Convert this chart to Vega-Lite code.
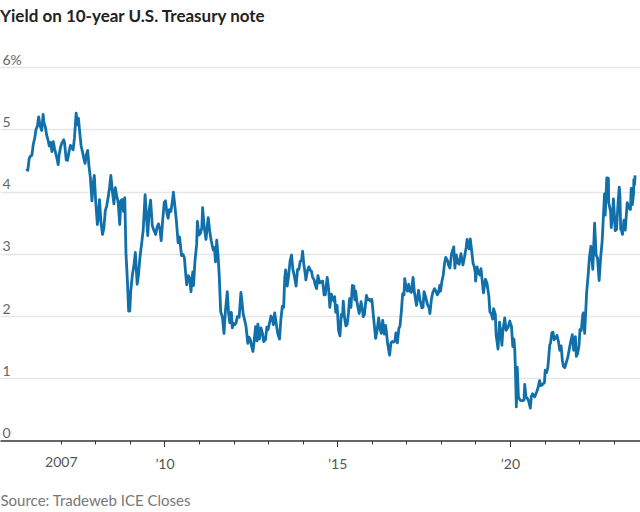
{
  "$schema": "https://vega.github.io/schema/vega-lite/v6.json",
  "width": 640,
  "height": 373.5,
  "autosize": {"type": "none"},
  "padding": {"left": 0, "top": 67, "right": 0, "bottom": 71.5},
  "background": "white",
  "title": {"text": "Yield on 10-year U.S. Treasury note", "anchor": "start", "frame": "group", "font": "Lato", "fontSize": 17, "fontWeight": "bold", "color": "#222222", "offset": 27},
  "config": {"view": {"stroke": null}},
  "data": {"values": [
    {"d":"2006-01-03","v":4.37},{"d":"2006-01-17","v":4.34},{"d":"2006-02-01","v":4.53},{"d":"2006-02-15","v":4.57},{"d":"2006-03-01","v":4.58},{"d":"2006-03-15","v":4.75},{"d":"2006-03-31","v":4.86},{"d":"2006-04-14","v":5.00},{"d":"2006-04-28","v":5.05},{"d":"2006-05-12","v":5.20},{"d":"2006-05-26","v":5.06},{"d":"2006-06-13","v":4.98},{"d":"2006-06-28","v":5.24},{"d":"2006-07-07","v":5.10},{"d":"2006-07-21","v":5.04},{"d":"2006-08-04","v":4.91},{"d":"2006-08-18","v":4.83},{"d":"2006-09-01","v":4.73},{"d":"2006-09-15","v":4.79},{"d":"2006-09-29","v":4.64},{"d":"2006-10-13","v":4.80},{"d":"2006-10-27","v":4.69},{"d":"2006-11-10","v":4.60},{"d":"2006-11-24","v":4.51},{"d":"2006-12-04","v":4.43},{"d":"2006-12-15","v":4.60},{"d":"2006-12-29","v":4.71},
    {"d":"2007-01-12","v":4.78},{"d":"2007-01-31","v":4.83},{"d":"2007-02-09","v":4.79},{"d":"2007-02-27","v":4.51},{"d":"2007-03-13","v":4.50},{"d":"2007-03-30","v":4.65},{"d":"2007-04-13","v":4.74},{"d":"2007-04-27","v":4.70},{"d":"2007-05-11","v":4.67},{"d":"2007-05-25","v":4.86},{"d":"2007-06-12","v":5.26},{"d":"2007-06-26","v":5.07},{"d":"2007-07-06","v":5.18},{"d":"2007-07-20","v":4.95},{"d":"2007-08-03","v":4.74},{"d":"2007-08-16","v":4.65},{"d":"2007-08-31","v":4.54},{"d":"2007-09-14","v":4.45},{"d":"2007-09-28","v":4.59},{"d":"2007-10-12","v":4.66},{"d":"2007-10-26","v":4.40},{"d":"2007-11-09","v":4.23},{"d":"2007-11-26","v":3.85},{"d":"2007-12-07","v":4.10},{"d":"2007-12-21","v":4.26},
    {"d":"2008-01-04","v":3.86},{"d":"2008-01-22","v":3.47},{"d":"2008-02-01","v":3.59},{"d":"2008-02-14","v":3.87},{"d":"2008-02-29","v":3.51},{"d":"2008-03-17","v":3.31},{"d":"2008-03-31","v":3.41},{"d":"2008-04-15","v":3.69},{"d":"2008-04-30","v":3.77},{"d":"2008-05-14","v":3.89},{"d":"2008-05-30","v":4.06},{"d":"2008-06-13","v":4.26},{"d":"2008-06-30","v":3.99},{"d":"2008-07-15","v":3.80},{"d":"2008-07-30","v":4.06},{"d":"2008-08-14","v":3.93},{"d":"2008-08-29","v":3.83},{"d":"2008-09-15","v":3.47},{"d":"2008-09-26","v":3.85},{"d":"2008-10-10","v":3.87},{"d":"2008-10-24","v":3.68},{"d":"2008-11-07","v":3.90},{"d":"2008-11-20","v":3.00},{"d":"2008-12-05","v":2.56},{"d":"2008-12-18","v":2.08},{"d":"2008-12-30","v":2.08},
    {"d":"2009-01-09","v":2.40},{"d":"2009-01-28","v":2.68},{"d":"2009-02-10","v":2.79},{"d":"2009-02-27","v":3.02},{"d":"2009-03-18","v":2.51},{"d":"2009-04-01","v":2.66},{"d":"2009-04-17","v":2.95},{"d":"2009-05-05","v":3.17},{"d":"2009-05-21","v":3.38},{"d":"2009-06-10","v":3.95},{"d":"2009-06-25","v":3.58},{"d":"2009-07-08","v":3.29},{"d":"2009-07-23","v":3.70},{"d":"2009-08-07","v":3.86},{"d":"2009-08-25","v":3.45},{"d":"2009-09-10","v":3.38},{"d":"2009-09-30","v":3.31},{"d":"2009-10-15","v":3.43},{"d":"2009-10-29","v":3.48},{"d":"2009-11-13","v":3.40},{"d":"2009-11-27","v":3.21},{"d":"2009-12-14","v":3.56},{"d":"2009-12-30","v":3.83},
    {"d":"2010-01-11","v":3.85},{"d":"2010-01-27","v":3.65},{"d":"2010-02-08","v":3.57},{"d":"2010-02-22","v":3.71},{"d":"2010-03-09","v":3.68},{"d":"2010-03-26","v":3.85},{"d":"2010-04-05","v":3.99},{"d":"2010-04-21","v":3.76},{"d":"2010-05-06","v":3.54},{"d":"2010-05-25","v":3.18},{"d":"2010-06-09","v":3.27},{"d":"2010-06-30","v":2.97},{"d":"2010-07-15","v":2.99},{"d":"2010-07-30","v":2.94},{"d":"2010-08-13","v":2.68},{"d":"2010-08-24","v":2.50},{"d":"2010-09-08","v":2.65},{"d":"2010-09-24","v":2.61},{"d":"2010-10-08","v":2.39},{"d":"2010-10-27","v":2.71},{"d":"2010-11-04","v":2.49},{"d":"2010-11-19","v":2.88},{"d":"2010-12-07","v":3.15},{"d":"2010-12-15","v":3.52},{"d":"2010-12-31","v":3.30},
    {"d":"2011-01-14","v":3.32},{"d":"2011-01-31","v":3.42},{"d":"2011-02-08","v":3.74},{"d":"2011-02-25","v":3.42},{"d":"2011-03-16","v":3.23},{"d":"2011-03-31","v":3.47},{"d":"2011-04-08","v":3.58},{"d":"2011-04-26","v":3.34},{"d":"2011-05-10","v":3.21},{"d":"2011-05-31","v":3.06},{"d":"2011-06-14","v":3.10},{"d":"2011-06-24","v":2.87},{"d":"2011-07-07","v":3.22},{"d":"2011-07-22","v":2.96},{"d":"2011-08-03","v":2.64},{"d":"2011-08-18","v":2.07},{"d":"2011-09-06","v":1.98},{"d":"2011-09-22","v":1.72},{"d":"2011-10-07","v":2.08},{"d":"2011-10-27","v":2.39},{"d":"2011-11-10","v":2.04},{"d":"2011-11-23","v":1.89},{"d":"2011-12-09","v":2.06},{"d":"2011-12-19","v":1.81},{"d":"2011-12-30","v":1.88},
    {"d":"2012-01-13","v":1.86},{"d":"2012-01-27","v":1.89},{"d":"2012-02-10","v":1.99},{"d":"2012-02-29","v":1.98},{"d":"2012-03-19","v":2.38},{"d":"2012-03-30","v":2.23},{"d":"2012-04-12","v":2.03},{"d":"2012-04-27","v":1.94},{"d":"2012-05-11","v":1.84},{"d":"2012-05-31","v":1.56},{"d":"2012-06-12","v":1.66},{"d":"2012-06-27","v":1.62},{"d":"2012-07-11","v":1.51},{"d":"2012-07-24","v":1.43},{"d":"2012-08-10","v":1.65},{"d":"2012-08-21","v":1.83},{"d":"2012-09-05","v":1.60},{"d":"2012-09-14","v":1.87},{"d":"2012-10-01","v":1.63},{"d":"2012-10-17","v":1.81},{"d":"2012-11-02","v":1.72},{"d":"2012-11-15","v":1.59},{"d":"2012-12-04","v":1.62},{"d":"2012-12-18","v":1.82},{"d":"2012-12-31","v":1.78},
    {"d":"2013-01-14","v":1.88},{"d":"2013-01-31","v":2.00},{"d":"2013-02-11","v":1.97},{"d":"2013-02-26","v":1.86},{"d":"2013-03-11","v":2.05},{"d":"2013-03-28","v":1.87},{"d":"2013-04-12","v":1.72},{"d":"2013-05-01","v":1.63},{"d":"2013-05-15","v":1.94},{"d":"2013-05-31","v":2.16},{"d":"2013-06-14","v":2.14},{"d":"2013-06-25","v":2.61},{"d":"2013-07-05","v":2.74},{"d":"2013-07-22","v":2.48},{"d":"2013-08-05","v":2.64},{"d":"2013-08-21","v":2.89},{"d":"2013-09-05","v":2.98},{"d":"2013-09-20","v":2.74},{"d":"2013-10-04","v":2.65},{"d":"2013-10-23","v":2.48},{"d":"2013-11-08","v":2.75},{"d":"2013-11-22","v":2.75},{"d":"2013-12-06","v":2.88},{"d":"2013-12-20","v":2.89},{"d":"2013-12-31","v":3.04},
    {"d":"2014-01-13","v":2.83},{"d":"2014-01-31","v":2.64},{"d":"2014-02-03","v":2.58},{"d":"2014-02-21","v":2.73},{"d":"2014-03-07","v":2.79},{"d":"2014-03-24","v":2.73},{"d":"2014-04-04","v":2.72},{"d":"2014-04-15","v":2.63},{"d":"2014-05-02","v":2.58},{"d":"2014-05-15","v":2.49},{"d":"2014-05-28","v":2.44},{"d":"2014-06-11","v":2.65},{"d":"2014-06-30","v":2.53},{"d":"2014-07-15","v":2.55},{"d":"2014-07-31","v":2.56},{"d":"2014-08-15","v":2.34},{"d":"2014-08-28","v":2.34},{"d":"2014-09-05","v":2.46},{"d":"2014-09-17","v":2.62},{"d":"2014-10-02","v":2.44},{"d":"2014-10-15","v":2.14},{"d":"2014-10-31","v":2.35},{"d":"2014-11-07","v":2.31},{"d":"2014-11-26","v":2.24},{"d":"2014-12-05","v":2.31},{"d":"2014-12-16","v":2.06},{"d":"2014-12-31","v":2.17},
    {"d":"2015-01-15","v":1.77},{"d":"2015-01-30","v":1.68},{"d":"2015-02-13","v":2.02},{"d":"2015-02-27","v":2.00},{"d":"2015-03-06","v":2.24},{"d":"2015-03-19","v":1.98},{"d":"2015-04-03","v":1.84},{"d":"2015-04-17","v":1.87},{"d":"2015-04-30","v":2.05},{"d":"2015-05-12","v":2.28},{"d":"2015-05-26","v":2.14},{"d":"2015-06-10","v":2.49},{"d":"2015-06-26","v":2.48},{"d":"2015-07-06","v":2.26},{"d":"2015-07-15","v":2.40},{"d":"2015-07-31","v":2.20},{"d":"2015-08-21","v":2.04},{"d":"2015-09-10","v":2.23},{"d":"2015-09-29","v":2.05},{"d":"2015-10-02","v":1.99},{"d":"2015-10-15","v":2.02},{"d":"2015-11-06","v":2.33},{"d":"2015-11-20","v":2.26},{"d":"2015-12-04","v":2.27},{"d":"2015-12-17","v":2.24},{"d":"2015-12-31","v":2.27},
    {"d":"2016-01-04","v":2.24},{"d":"2016-01-20","v":1.98},{"d":"2016-02-11","v":1.64},{"d":"2016-02-26","v":1.76},{"d":"2016-03-14","v":1.97},{"d":"2016-03-31","v":1.78},{"d":"2016-04-11","v":1.72},{"d":"2016-04-26","v":1.93},{"d":"2016-05-13","v":1.71},{"d":"2016-05-27","v":1.85},{"d":"2016-06-16","v":1.57},{"d":"2016-06-27","v":1.46},{"d":"2016-07-08","v":1.37},{"d":"2016-07-22","v":1.57},{"d":"2016-08-05","v":1.59},{"d":"2016-08-19","v":1.58},{"d":"2016-09-02","v":1.60},{"d":"2016-09-13","v":1.73},{"d":"2016-09-28","v":1.57},{"d":"2016-10-14","v":1.80},{"d":"2016-10-26","v":1.84},{"d":"2016-11-09","v":2.07},{"d":"2016-11-23","v":2.36},{"d":"2016-12-07","v":2.34},{"d":"2016-12-15","v":2.60},{"d":"2016-12-30","v":2.45},
    {"d":"2017-01-13","v":2.40},{"d":"2017-01-26","v":2.51},{"d":"2017-02-07","v":2.40},{"d":"2017-02-23","v":2.38},{"d":"2017-03-13","v":2.62},{"d":"2017-03-27","v":2.38},{"d":"2017-04-18","v":2.17},{"d":"2017-05-10","v":2.41},{"d":"2017-05-26","v":2.25},{"d":"2017-06-14","v":2.13},{"d":"2017-06-26","v":2.14},{"d":"2017-07-07","v":2.39},{"d":"2017-07-26","v":2.29},{"d":"2017-08-11","v":2.19},{"d":"2017-08-31","v":2.12},{"d":"2017-09-07","v":2.04},{"d":"2017-09-22","v":2.26},{"d":"2017-10-06","v":2.37},{"d":"2017-10-25","v":2.44},{"d":"2017-11-10","v":2.40},{"d":"2017-11-24","v":2.34},{"d":"2017-12-08","v":2.38},{"d":"2017-12-20","v":2.49},{"d":"2017-12-29","v":2.40},
    {"d":"2018-01-11","v":2.55},{"d":"2018-01-26","v":2.66},{"d":"2018-02-09","v":2.85},{"d":"2018-02-21","v":2.94},{"d":"2018-03-09","v":2.90},{"d":"2018-03-23","v":2.82},{"d":"2018-04-06","v":2.77},{"d":"2018-04-24","v":3.00},{"d":"2018-05-17","v":3.11},{"d":"2018-05-29","v":2.77},{"d":"2018-06-13","v":2.98},{"d":"2018-06-29","v":2.85},{"d":"2018-07-13","v":2.83},{"d":"2018-08-01","v":3.00},{"d":"2018-08-22","v":2.82},{"d":"2018-09-07","v":2.94},{"d":"2018-09-25","v":3.10},{"d":"2018-10-05","v":3.23},{"d":"2018-10-12","v":3.15},{"d":"2018-10-26","v":3.08},{"d":"2018-11-08","v":3.24},{"d":"2018-11-23","v":3.04},{"d":"2018-12-07","v":2.85},{"d":"2018-12-20","v":2.79},{"d":"2018-12-31","v":2.69},
    {"d":"2019-01-03","v":2.56},{"d":"2019-01-18","v":2.79},{"d":"2019-02-01","v":2.70},{"d":"2019-02-15","v":2.66},{"d":"2019-03-01","v":2.76},{"d":"2019-03-22","v":2.44},{"d":"2019-03-27","v":2.37},{"d":"2019-04-17","v":2.59},{"d":"2019-05-03","v":2.53},{"d":"2019-05-23","v":2.32},{"d":"2019-06-03","v":2.07},{"d":"2019-06-20","v":2.03},{"d":"2019-07-03","v":1.95},{"d":"2019-07-12","v":2.12},{"d":"2019-07-31","v":2.02},{"d":"2019-08-07","v":1.71},{"d":"2019-08-28","v":1.47},{"d":"2019-09-13","v":1.90},{"d":"2019-09-30","v":1.68},{"d":"2019-10-08","v":1.53},{"d":"2019-10-18","v":1.76},{"d":"2019-11-07","v":1.97},{"d":"2019-11-22","v":1.77},{"d":"2019-12-13","v":1.82},{"d":"2019-12-31","v":1.92},
    {"d":"2020-01-08","v":1.87},{"d":"2020-01-17","v":1.84},{"d":"2020-01-31","v":1.51},{"d":"2020-02-12","v":1.63},{"d":"2020-02-21","v":1.46},{"d":"2020-02-28","v":1.13},{"d":"2020-03-06","v":0.71},{"d":"2020-03-09","v":0.54},{"d":"2020-03-18","v":1.18},{"d":"2020-03-31","v":0.70},{"d":"2020-04-17","v":0.65},{"d":"2020-04-30","v":0.64},{"d":"2020-05-15","v":0.64},{"d":"2020-05-29","v":0.65},{"d":"2020-06-05","v":0.90},{"d":"2020-06-19","v":0.70},{"d":"2020-07-02","v":0.68},{"d":"2020-07-17","v":0.63},{"d":"2020-08-04","v":0.52},{"d":"2020-08-14","v":0.71},{"d":"2020-08-27","v":0.75},{"d":"2020-09-18","v":0.70},{"d":"2020-10-09","v":0.78},{"d":"2020-10-23","v":0.84},{"d":"2020-11-09","v":0.96},{"d":"2020-11-24","v":0.88},{"d":"2020-12-11","v":0.90},{"d":"2020-12-31","v":0.93},
    {"d":"2021-01-08","v":1.13},{"d":"2021-01-22","v":1.09},{"d":"2021-02-05","v":1.17},{"d":"2021-02-25","v":1.54},{"d":"2021-03-05","v":1.56},{"d":"2021-03-19","v":1.73},{"d":"2021-03-31","v":1.74},{"d":"2021-04-13","v":1.62},{"d":"2021-04-30","v":1.65},{"d":"2021-05-12","v":1.69},{"d":"2021-05-28","v":1.59},{"d":"2021-06-11","v":1.45},{"d":"2021-06-25","v":1.52},{"d":"2021-07-08","v":1.29},{"d":"2021-07-20","v":1.19},{"d":"2021-08-04","v":1.17},{"d":"2021-08-20","v":1.26},{"d":"2021-09-03","v":1.33},{"d":"2021-09-28","v":1.54},{"d":"2021-10-21","v":1.70},{"d":"2021-11-05","v":1.45},{"d":"2021-11-23","v":1.67},{"d":"2021-12-03","v":1.35},{"d":"2021-12-17","v":1.40},{"d":"2021-12-31","v":1.52},
    {"d":"2022-01-10","v":1.78},{"d":"2022-01-24","v":1.77},{"d":"2022-02-10","v":2.03},{"d":"2022-02-15","v":2.05},{"d":"2022-03-01","v":1.72},{"d":"2022-03-22","v":2.38},{"d":"2022-04-07","v":2.66},{"d":"2022-04-20","v":2.94},{"d":"2022-05-06","v":3.12},{"d":"2022-05-26","v":2.75},{"d":"2022-06-14","v":3.49},{"d":"2022-06-30","v":2.98},{"d":"2022-07-15","v":2.93},{"d":"2022-08-01","v":2.57},{"d":"2022-08-19","v":2.98},{"d":"2022-09-02","v":3.20},{"d":"2022-09-27","v":3.96},{"d":"2022-10-04","v":3.62},{"d":"2022-10-21","v":4.22},{"d":"2022-11-07","v":4.21},{"d":"2022-11-10","v":3.82},{"d":"2022-11-30","v":3.68},{"d":"2022-12-07","v":3.42},{"d":"2022-12-19","v":3.59},{"d":"2022-12-30","v":3.88},
    {"d":"2023-01-10","v":3.61},{"d":"2023-01-18","v":3.37},{"d":"2023-02-01","v":3.39},{"d":"2023-02-17","v":3.82},{"d":"2023-03-02","v":4.07},{"d":"2023-03-09","v":3.93},{"d":"2023-03-17","v":3.39},{"d":"2023-03-24","v":3.38},{"d":"2023-04-05","v":3.31},{"d":"2023-04-20","v":3.54},{"d":"2023-05-04","v":3.38},{"d":"2023-05-25","v":3.82},{"d":"2023-06-09","v":3.74},{"d":"2023-06-28","v":3.71},{"d":"2023-07-06","v":4.05},{"d":"2023-07-18","v":3.79},{"d":"2023-07-31","v":3.97},{"d":"2023-08-03","v":4.19},{"d":"2023-08-10","v":4.11},{"d":"2023-08-16","v":4.26}
  ]},
  "mark": {"type": "line", "color": "#1170aa", "strokeWidth": 2.8, "strokeJoin": "round"},
  "encoding": {
    "x": {
      "field": "d", "type": "temporal",
      "scale": {"domain": [{"year": 2005, "month": 3, "date": 29}, {"year": 2023, "month": 10, "date": 7}]},
      "axis": {
        "values": [{"year":2007,"month":1,"date":1},{"year":2008,"month":1,"date":1},{"year":2009,"month":1,"date":1},{"year":2010,"month":1,"date":1},{"year":2011,"month":1,"date":1},{"year":2012,"month":1,"date":1},{"year":2013,"month":1,"date":1},{"year":2014,"month":1,"date":1},{"year":2015,"month":1,"date":1},{"year":2016,"month":1,"date":1},{"year":2017,"month":1,"date":1},{"year":2018,"month":1,"date":1},{"year":2019,"month":1,"date":1},{"year":2020,"month":1,"date":1},{"year":2021,"month":1,"date":1},{"year":2022,"month":1,"date":1},{"year":2023,"month":1,"date":1}],
        "labelExpr": "year(datum.value) == 2007 ? '2007' : (year(datum.value) % 5 == 0 ? '\u2019' + substring('' + year(datum.value), 2, 4) : '')",
        "grid": false,
        "domainColor": "#333333", "domainWidth": 1.5,
        "tickColor": "#333333", "tickWidth": 1,
        "tickSize": {"condition": {"test": "year(datum.value) % 5 == 0", "value": 6}, "value": 3.5},
        "labelFont": "Lato", "labelFontSize": 14, "labelColor": "#555555", "labelPadding": 11,
        "labelFlush": false, "labelOverlap": false,
        "title": "Source: Tradeweb ICE Closes",
        "titleAnchor": "start", "titleAlign": "left", "titleFont": "Lato", "titleFontSize": 15, "titleFontWeight": "normal", "titleColor": "#777777", "titlePadding": 22
      }
    },
    "y": {
      "field": "v", "type": "quantitative",
      "scale": {"domain": [0, 6], "nice": false, "zero": true},
      "axis": {
        "values": [0, 1, 2, 3, 4, 5, 6],
        "labelExpr": "datum.value == 6 ? '6%' : datum.label",
        "title": null, "domain": false, "ticks": false, "tickSize": 0,
        "labelAlign": "left", "labelPadding": -2, "labelBaseline": "alphabetic", "labelOffset": -3,
        "labelFont": "Lato", "labelFontSize": 14, "labelColor": "#666666",
        "labelFlush": false, "labelOverlap": false,
        "grid": true, "gridColor": {"condition": {"test": "datum.value === 0", "value": "transparent"}, "value": "#e6e6e6"}, "gridWidth": 1.5
      }
    }
  }
}
